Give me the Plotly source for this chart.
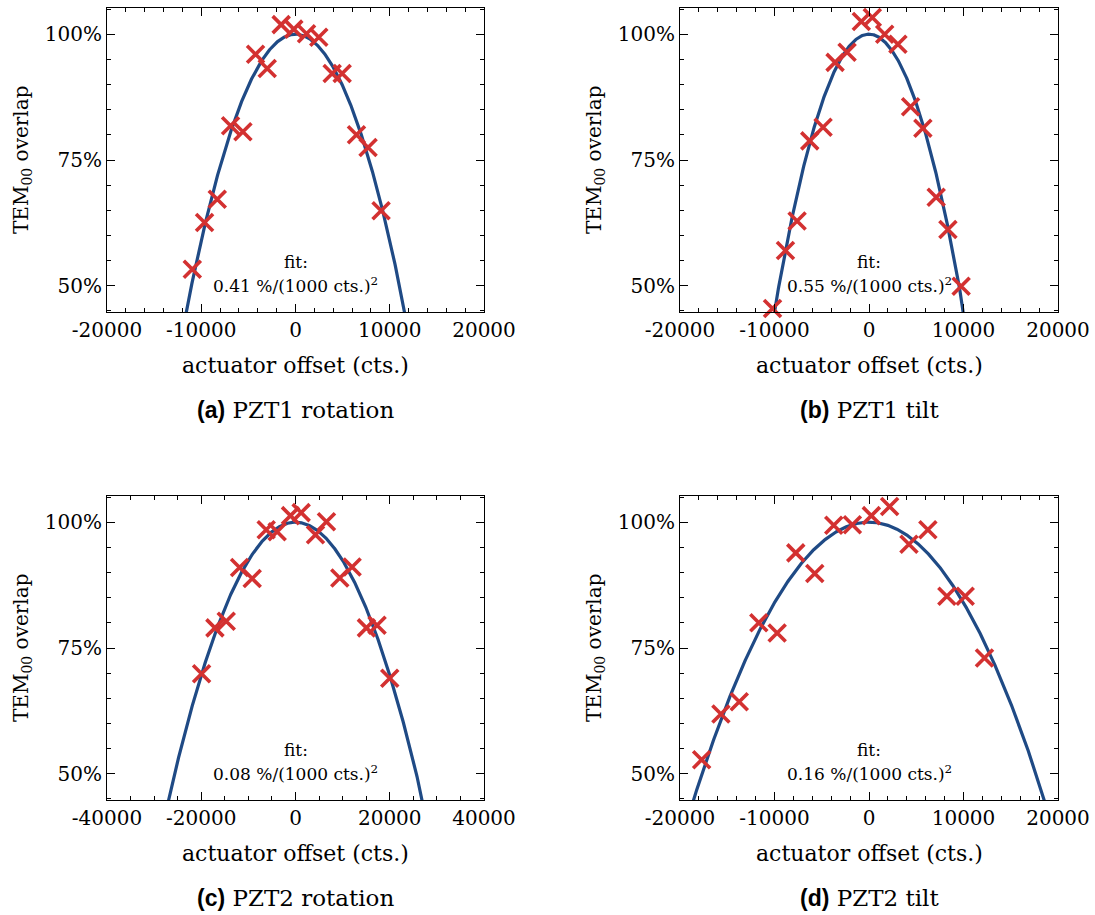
import numpy as np
import plotly.graph_objects as go

# ---------------- data ----------------
a_x = [-10950, -9650, -8300, -6890, -5580, -4240, -3000, -1520, -180, 1170, 2470, 3890, 4950, 6470, 7700, 9080]
a_y = [53.3, 62.6, 67.2, 81.8, 80.6, 96.0, 93.2, 101.9, 101.0, 100.1, 99.4, 92.2, 92.2, 80.0, 77.5, 64.9]

b_x = [-10210, -8840, -7610, -6270, -4860, -3590, -2320, -810, 350, 1660, 3060, 4400, 5700, 7110, 8350, 9750]
b_y = [45.5, 57.0, 62.9, 78.8, 81.5, 94.4, 96.4, 102.5, 103.3, 100.0, 98.0, 85.6, 81.3, 67.6, 61.2, 49.9]

c_x = [-19930, -17100, -14700, -11870, -9190, -6220, -3890, -1060, 1200, 4240, 6570, 9400, 12010, 15050, 17310, 20000]
c_y = [69.9, 79.0, 80.3, 91.0, 88.8, 98.5, 98.1, 101.3, 101.9, 97.5, 100.1, 88.9, 91.1, 79.0, 79.5, 69.0]

d_x = [-17710, -15670, -13730, -11660, -9720, -7750, -5740, -3730, -1760, 250, 2180, 4230, 6230, 8240, 10180, 12220]
d_y = [52.8, 61.9, 64.3, 80.0, 78.0, 93.9, 89.8, 99.4, 99.5, 101.3, 103.1, 95.6, 98.5, 85.3, 85.3, 73.0]

# fit curvature in % per (1000 cts)^2 (curve) and the printed label
fit_coef = [0.41, 0.55, 0.076, 0.16]
fit_label = ["0.41", "0.55", "0.08", "0.16"]

x_ranges = [[-20000, 20000], [-20000, 20000], [-40000, 40000], [-20000, 20000]]
x_tickvals = [[-20000, -10000, 0, 10000, 20000],
              [-20000, -10000, 0, 10000, 20000],
              [-40000, -20000, 0, 20000, 40000],
              [-20000, -10000, 0, 10000, 20000]]
x_ticktext = [["-20000", "-10000", "0", "10000", "20000"],
              ["-20000", "-10000", "0", "10000", "20000"],
              ["-40000", "-20000", "0", "20000", "40000"],
              ["-20000", "-10000", "0", "10000", "20000"]]
x_minor = [2000, 2000, 5000, 2000]
y_tickvals = [50, 75, 100]
y_ticktext = ["50%", "75%", "100%"]
y_range = [44.8, 105.2]

panel_tag = ["(a)", "(b)", "(c)", "(d)"]
panel_name = ["PZT1 rotation", "PZT1 tilt", "PZT2 rotation", "PZT2 tilt"]

# ---------------- layout geometry ----------------
W, H = 1095, 915
boxes = [  # left, right, top, bottom in px
    (107, 484, 8, 312),
    (680, 1058, 8, 312),
    (107, 484, 496, 800),
    (680, 1058, 496, 800),
]


def px(v):
    return v / W


def py(v):
    return 1 - v / H


RED = "#d33131"
BLUE = "#1f4a85"
SERIF = "DejaVu Serif"
SANS = "Liberation Sans"

fig = go.Figure()
datasets = [(a_x, a_y), (b_x, b_y), (c_x, c_y), (d_x, d_y)]
annotations = []

for i, ((xs, ys), box) in enumerate(zip(datasets, boxes)):
    k = "" if i == 0 else str(i + 1)
    xa, ya = "x" + k, "y" + k
    l, r, t, b = box
    xr = x_ranges[i]
    xx = np.linspace(xr[0], xr[1], 801)
    yy = 100 - fit_coef[i] * (xx / 1000.0) ** 2
    fig.add_trace(go.Scatter(x=xx, y=yy, mode="lines", line=dict(color=BLUE, width=3.2),
                             xaxis=xa, yaxis=ya, showlegend=False, hoverinfo="skip"))
    fig.add_trace(go.Scatter(x=xs, y=ys, mode="markers",
                             marker=dict(symbol="x-thin", size=17, line=dict(color=RED, width=3.6)),
                             xaxis=xa, yaxis=ya, showlegend=False, cliponaxis=False))
    common = dict(showgrid=False, zeroline=False, showline=True, linecolor="black", linewidth=1.2,
                  mirror="allticks", ticks="inside", ticklen=8, tickwidth=1.2, tickcolor="black",
                  automargin=False,
                  tickfont=dict(family=SERIF, size=20, color="black"))
    fig.layout["xaxis" + k] = dict(common, domain=[px(l), px(r)], range=xr, anchor=ya,
                                   tickmode="array", tickvals=x_tickvals[i], ticktext=x_ticktext[i],
                                   minor=dict(dtick=x_minor[i], tick0=0, ticks="inside", ticklen=4,
                                              tickwidth=1, tickcolor="black"))
    fig.layout["yaxis" + k] = dict(common, domain=[py(b), py(t)], range=y_range, anchor=xa,
                                   tickmode="array", tickvals=y_tickvals, ticktext=y_ticktext,
                                   minor=dict(dtick=5, tick0=0, ticks="inside", ticklen=4,
                                              tickwidth=1, tickcolor="black"))
    cx = (l + r) / 2
    # fit text
    annotations.append(dict(x=0, y=54.8, xref=xa, yref=ya, text="fit:", showarrow=False,
                            xanchor="center", yanchor="middle",
                            font=dict(family=SERIF, size=17, color="black")))
    annotations.append(dict(x=0, y=50.1, xref=xa, yref=ya,
                            text=fit_label[i] + " %/(1000 cts.)<sup>2</sup>", showarrow=False,
                            xanchor="center", yanchor="middle",
                            font=dict(family=SERIF, size=17, color="black")))
    # x title
    annotations.append(dict(x=px(cx), y=py(b + 53), xref="paper", yref="paper",
                            text="actuator offset (cts.)", showarrow=False,
                            xanchor="center", yanchor="middle",
                            font=dict(family=SERIF, size=22, color="black")))
    # y title
    annotations.append(dict(x=px(l - 85), y=py((t + b) / 2), xref="paper", yref="paper",
                            text="TEM<sub>00</sub> overlap", showarrow=False, textangle=-90,
                            xanchor="center", yanchor="middle",
                            font=dict(family=SERIF, size=20, color="black")))
    # panel caption
    annotations.append(dict(x=px(cx), y=py(b + 98), xref="paper", yref="paper",
                            text="<b><span style='font-family:" + SANS + "'>" + panel_tag[i] +
                                 "</span></b> " + panel_name[i],
                            showarrow=False, xanchor="center", yanchor="middle",
                            font=dict(family=SERIF, size=23, color="black")))

fig.update_layout(template="none", width=W, height=H, margin=dict(l=0, r=0, t=0, b=0),
                  paper_bgcolor="white", plot_bgcolor="white", annotations=annotations)

# remove the browser's default 8px page margin so the figure fills the window exactly
fig.write_html("out.html", config={"displayModeBar": False},
               post_script="document.body.style.margin='0px';")
